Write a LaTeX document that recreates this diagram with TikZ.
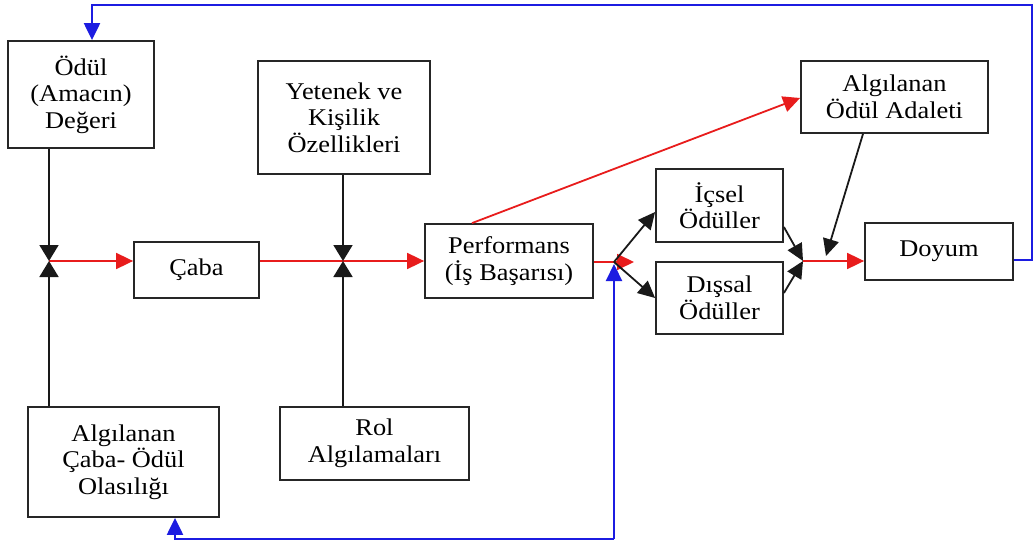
\documentclass[tikz,border=0pt]{standalone}
\usepackage{fontspec}
\setmainfont{Liberation Serif}[FakeStretch=1.1]
\usetikzlibrary{arrows.meta,calc}
\definecolor{myred}{RGB}{232,28,28}
\definecolor{myblue}{RGB}{28,28,225}
\begin{document}
\begin{tikzpicture}[x=1pt,y=-1pt,
  font=\fontsize{24}{26.5}\selectfont,
  box/.style={draw=black!85, line width=1.8pt, align=center, inner sep=0pt, fill=white},
  tip/.style={-{Triangle[length=17pt,width=16pt]}},
  btip/.style={-{Triangle[length=16pt,width=19pt]}},
  blk/.style={draw=black!90, line width=1.8pt},
  rd/.style={draw=myred, line width=1.8pt, myred},
  bl/.style={draw=myblue, line width=2.2pt, myblue}]
\fill[white] (0,0) rectangle (1035,548);
\useasboundingbox (0,0) rectangle (1035,548);

% boxes
\node[box, minimum width=146pt, minimum height=107pt] (odul) at (81,94.5) {Ödül\\(Amacın)\\Değeri};
\node[box, minimum width=172pt, minimum height=113pt] (yet) at (344,117.5) {Yetenek ve\\Kişilik\\Özellikleri};
\node[box, minimum width=125pt, minimum height=56pt] (caba) at (196.5,270) {Çaba};
\node[box, minimum width=168pt, minimum height=74pt] (perf) at (509,261) {Performans\\(İş Başarısı)};
\node[box, minimum width=127pt, minimum height=73pt] (icsel) at (719.5,205.5) {İçsel\\Ödüller};
\node[box, minimum width=127pt, minimum height=72pt] (dissal) at (719.5,298) {Dışsal\\Ödüller};
\node[box, minimum width=187pt, minimum height=72pt] (adalet) at (894.5,97) {Algılanan\\Ödül Adaleti};
\node[box, minimum width=148pt, minimum height=57pt] (doyum) at (939,251.5) {Doyum};
\node[box, minimum width=191pt, minimum height=110pt] (olas) at (123.5,462) {Algılanan\\Çaba- Ödül\\Olasılığı};
\node[box, minimum width=189pt, minimum height=73pt] (rol) at (374.5,443.5) {Rol\\Algılamaları};

% junctions
\coordinate (j1) at (49,261);
\coordinate (j2) at (343,261);
\coordinate (j3) at (614,262);
\coordinate (r3) at (634,262);
\coordinate (j4) at (803,261);
\coordinate (bc) at (614,539);
\coordinate (bb) at (175,539);
\coordinate (dr) at (1032,260);
\coordinate (tr) at (1032,5);
\coordinate (tl) at (92,5);
\coordinate (a2) at (826,256);

% red main flow
\draw[rd, tip] (j1) -- (j1 -| caba.west);
\draw[rd] (j1 -| caba.east) -- (j2);
\draw[rd, tip] (j2) -- (j2 -| perf.west);
\draw[rd, tip] (j3 -| perf.east) -- (r3);
\draw[rd, tip] (j4) -- (j4 -| doyum.west);
\draw[rd, tip] ([xshift=-37pt]perf.north) -- ([yshift=-1pt]adalet.west);

% black arrows
\draw[blk, btip] (j1 |- odul.south) -- (j1);
\draw[blk, btip] (j1 |- olas.north) -- (j1);
\draw[blk, btip] (j2 |- yet.south) -- (j2);
\draw[blk, btip] (j2 |- rol.north) -- (j2);
\draw[blk, tip] (j3) -- ([yshift=-6.5pt]icsel.west);
\draw[blk, tip] (j3) -- (dissal.west);
\draw[blk, tip] ([yshift=-21.5pt]icsel.east) -- (j4);
\draw[blk, tip] ([yshift=5pt]dissal.east) -- (j4);
\draw[blk, tip] ([xshift=-31.5pt]adalet.south) -- (a2);

% blue feedback
\draw[bl, tip] (dr -| doyum.east) -- (dr) -- (tr) -- (tl) -- (tl |- odul.north);
\draw[bl, tip] (bc) -- ([yshift=-2pt]j3);
\draw[bl, tip] (bc) -- (bb) -- (bb |- olas.south);
\end{tikzpicture}
\end{document}
